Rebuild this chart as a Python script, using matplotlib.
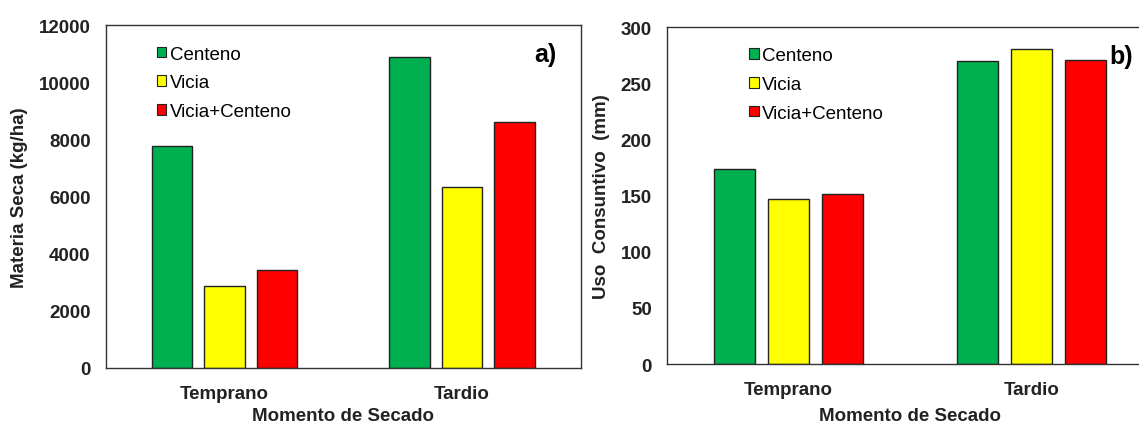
import matplotlib.pyplot as plt
from matplotlib.patches import Patch

plt.rcParams['font.family'] = ['Liberation Sans', 'DejaVu Sans']

# datos
momentos = ['Temprano', 'Tardio']
cultivos = ['Centeno', 'Vicia', 'Vicia+Centeno']
colores = ['#00B050', '#FFFF00', '#FF0000']

materia_seca = [
    [7770, 10890],   # Centeno
    [2880, 6340],    # Vicia
    [3430, 8620],    # Vicia+Centeno
]
uso_consuntivo = [
    [174, 269.5],
    [147, 281],
    [151.5, 270.5],
]


def panel(ax, valores, ymax, paso, ylabel, letra, leg_x, letra_x, xpad):
    xs = [1, 2]
    offs = [-0.221, 0, 0.221]
    for i in range(len(cultivos)):
        ax.bar([x + offs[i] for x in xs], valores[i], width=0.17,
               color=colores[i], edgecolor='#222222', linewidth=1.0, zorder=2)
    ax.set_xlim(0.5, 2.5)
    ax.set_ylim(0, ymax)
    ax.set_yticks(range(0, ymax + 1, paso))
    ax.set_xticks(xs)
    ax.set_xticklabels(momentos)
    ax.tick_params(axis='y', length=0, labelsize=13.5, pad=11)
    ax.tick_params(axis='x', length=0, labelsize=13.5, pad=12)
    for lab in ax.get_xticklabels() + ax.get_yticklabels():
        lab.set_fontweight('bold')
        lab.set_color('#222222')
    for s in ax.spines.values():
        s.set_color('#333333')
        s.set_linewidth(1.0)
    ax.set_ylabel(ylabel, fontsize=13.5, fontweight='bold', color='#222222')
    ax.set_xlabel('Momento de Secado', fontsize=13.5, fontweight='bold',
                  color='#222222', labelpad=xpad)
    handles = [Patch(facecolor=c, edgecolor='#222222', linewidth=0.8) for c in colores]
    ax.legend(handles, cultivos, loc='upper left', bbox_to_anchor=(leg_x, 0.94),
              frameon=False, fontsize=13.5, handlelength=0.5, handleheight=0.5,
              handletextpad=0.2, labelspacing=0.62, borderpad=0, borderaxespad=0)
    ax.text(letra_x, 0.915, letra, transform=ax.transAxes, fontsize=18,
            fontweight='bold', ha='center', va='center')


fig = plt.figure(figsize=(11.39, 4.27), dpi=100)
ax1 = fig.add_axes([0.093, 0.136, 0.417, 0.803])
ax2 = fig.add_axes([0.5856, 0.145, 0.4267, 0.789])

panel(ax1, materia_seca, 12000, 2000, 'Materia Seca (kg/ha)', 'a)', 0.107, 0.925, 4)
panel(ax2, uso_consuntivo, 300, 50, 'Uso  Consuntivo  (mm)', 'b)', 0.169, 0.935, 7)
ax1.yaxis.set_label_coords(-0.164, 0.5)
ax2.yaxis.set_label_coords(-0.117, 0.5)

fig.savefig('out.png', dpi=100)
